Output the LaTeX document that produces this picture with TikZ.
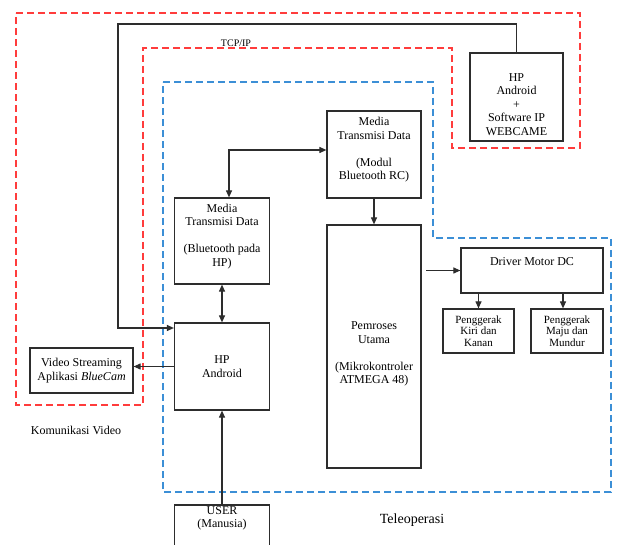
\documentclass[tikz,border=0pt]{standalone}
\usepackage{fontspec}
\setmainfont{Liberation Serif}
\usepackage{xcolor}
\definecolor{videored}{RGB}{255,60,60}
\definecolor{teleblue}{RGB}{60,143,214}
\definecolor{linegray}{RGB}{45,45,45}
\usepackage{tikz}
\usetikzlibrary{arrows.meta, calc, positioning}
\tikzset{
  >={Triangle[length=7pt,width=6pt]},
  box/.style={draw=linegray, line width=1.2pt, fill=white, align=center,
              inner sep=0pt, font=\fontsize{12}{13.5}\selectfont},
  smallbox/.style={box, font=\fontsize{11}{11.7}\selectfont},
  link/.style={draw=linegray, line width=1.1pt},
  region/.style={line width=1.6pt, dash pattern=on 7pt off 4pt},
  caption/.style={inner sep=0pt, font=\fontsize{12}{13.5}\selectfont},
}

\begin{document}
\begin{tikzpicture}[x=1pt, y=-1pt]
  \useasboundingbox (0,0) rectangle (619,545);
  \clip (0,0) rectangle (619,545);
  \fill[white] (0,0) rectangle (619,545);

  % Komunikasi Video region (red)
  \draw[region, videored]
    (16,13) -- (580,13) -- (580,148) -- (452,148) -- (452,48)
    -- (143,48) -- (143,405) -- (16,405) -- cycle;
  % Teleoperasi region (blue)
  \draw[region, teleblue]
    (163,82) -- (433,82) -- (433,238) -- (611,238) -- (611,492)
    -- (163,492) -- cycle;

  % blocks
  \node[box, minimum width=93, minimum height=88] (cam) at (516.5,97)
    {\strut\\HP\\Android\\+\\Software IP\\WEBCAME};
  \node[box, minimum width=94, minimum height=87] (modul) at (374,154.5)
    {Media\\Transmisi Data\\[13.5pt](Modul\\Bluetooth RC)\\[-6pt]\strut};
  \node[box, minimum width=95, minimum height=86] (bthp) at (222,241)
    {Media\\Transmisi Data\\[13.5pt](Bluetooth pada\\HP)\\[-6pt]\strut};
  \node[box, minimum width=95, minimum height=87] (hp) at (222,366.5)
    {HP\\Android};
  \node[box, minimum width=103, minimum height=45] (video) at (81.5,370.5)
    {Video Streaming\\Aplikasi \textit{BlueCam}};
  \node[box, minimum width=94, minimum height=243] (mcu) at (374,346.5)
    {\strut\\Pemroses\\Utama\\[13.5pt](Mikrokontroler\\ATMEGA 48)};
  \node[box, minimum width=142, minimum height=45] (driver) at (532,270.5)
    {Driver Motor DC\\ \strut};
  \node[smallbox, minimum width=71, minimum height=44] (kiri) at (478.5,331)
    {Penggerak\\Kiri dan\\Kanan};
  \node[smallbox, minimum width=72, minimum height=44] (maju) at (567,331)
    {Penggerak\\Maju dan\\Mundur};
  \node[box, minimum width=95, minimum height=55] (user) at (222,532.5)
    {USER\\(Manusia)\\ \strut\\ \strut};

  % labels
  \node[caption, font=\fontsize{10}{12}\selectfont] (tcpip) at (236,43) {TCP/IP};
  \node[caption] (komvideo) at (76,430) {Komunikasi Video};
  \node[caption, font=\fontsize{14}{16}\selectfont] (teleop) at (412,520) {Teleoperasi};

  % connectors
  \coordinate (feed) at (118,24);
  \coordinate (hpin) at (0,328);
  \draw[link,->] (cam.north) |- (feed) |- (hp.west |- hpin);
  \draw[link,<->] ($(bthp.north)+(7,0)$) |- (modul.west |- 0,150);
  \draw[link,->] (modul) -- (mcu);
  \draw[link,<->] (bthp) -- (hp);
  \draw[link,->] (hp.west) -- (video.east |- hp.west);
  \draw[link,->] (user) -- (hp);
  \draw[link,->] ($(driver.west)+(-34,0)$) -- (driver.west);
  \draw[link,->] (kiri.north |- driver.south) -- (kiri.north);
  \draw[link,->] ($(maju.north |- driver.south)+(-4,0)$) -- ($(maju.north)+(-4,0)$);
\end{tikzpicture}
\end{document}
